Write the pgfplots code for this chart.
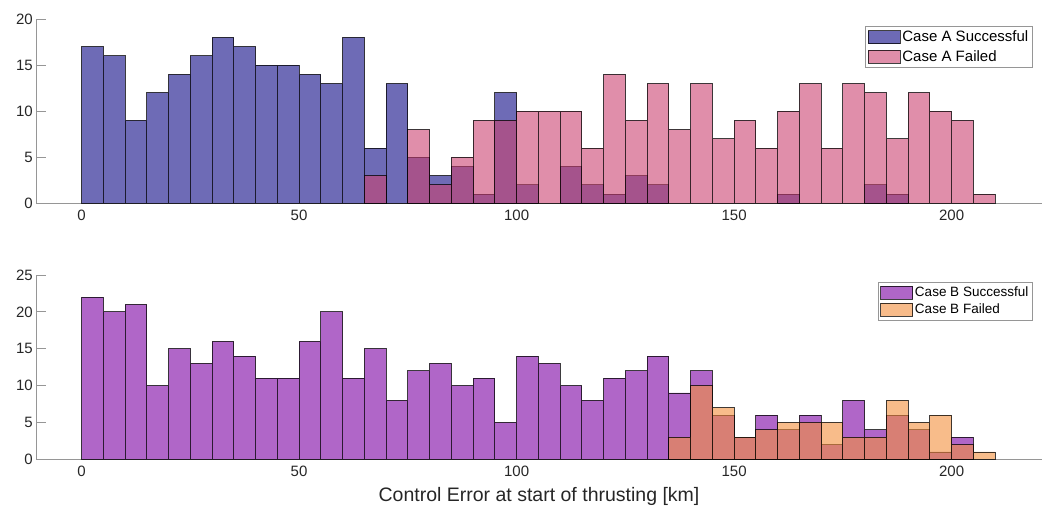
\documentclass[border=0pt]{standalone}
\usepackage{pgfplots}
\pgfplotsset{compat=1.18}
\usepackage{fontspec}
\setmainfont{Liberation Sans}
\definecolor{cSA}{RGB}{13,8,133}
\definecolor{cFA}{RGB}{203,67,113}
\definecolor{cSB}{RGB}{123,0,163}
\definecolor{cFB}{RGB}{243,143,60}
\definecolor{axgray}{RGB}{150,150,150}
\definecolor{tickcol}{RGB}{38,38,38}
\pgfplotsset{
  histleg/.style={legend image code/.code={\draw[##1,/tikz/.cd] (0pt,-6.5pt) rectangle (32pt,6.5pt);}},
  hbar/.style={ybar, bar width=5, bar shift=0pt, fill=#1, fill opacity=0.6, draw=black, draw opacity=0.75, line width=0.8pt, histleg},
  hist/.style={
    scale only axis, width=1005.4pt, height=184.3pt,
    xmin=-10.4, xmax=220.7, ymin=0,
    axis x line*=bottom, axis y line*=left,
    axis line style={draw=axgray, line width=0.8pt, -},
    xtick={0,50,100,150,200},
    tick align=inside,
    major tick length=10pt,
    x tick style={draw=none},
    y tick style={draw=axgray, line width=0.8pt},
    tick label style={font=\fontsize{15}{18}\selectfont, text=tickcol},
    /pgf/number format/assume math mode=true,
    xticklabel style={yshift=-3.5pt},
    legend cell align=left,
    legend style={draw=axgray, line width=0.8pt, fill=white, fill opacity=1, text opacity=1,
      at={(1,1)}, anchor=north east, xshift=-9pt, yshift=-7pt,
      inner xsep=2pt, inner ysep=2.5pt, text=black},
  }
}
\begin{document}
\begin{tikzpicture}
\path[use as bounding box] (0,0) rectangle (1046pt,507pt);
\begin{axis}[hist, at={(36.3pt,303.7pt)}, anchor=south west, ymax=20, ytick={0,5,10,15,20},
  legend style={font=\fontsize{15}{19}\selectfont, row sep=3.5pt}]
\addplot[hbar=cSA] coordinates {
(2.5,17) (7.5,16) (12.5,9) (17.5,12) (22.5,14) (27.5,16) (32.5,18) (37.5,17)
(42.5,15) (47.5,15) (52.5,14) (57.5,13) (62.5,18) (67.5,6) (72.5,13) (77.5,5)
(82.5,3) (87.5,4) (92.5,1) (97.5,12) (102.5,2) (112.5,4) (117.5,2) (122.5,1)
(127.5,3) (132.5,2) (162.5,1) (182.5,2) (187.5,1)};
\addlegendentry{Case A Successful}
\addplot[hbar=cFA] coordinates {
(67.5,3) (77.5,8) (82.5,2) (87.5,5) (92.5,9) (97.5,9) (102.5,10) (107.5,10)
(112.5,10) (117.5,6) (122.5,14) (127.5,9) (132.5,13) (137.5,8) (142.5,13) (147.5,7)
(152.5,9) (157.5,6) (162.5,10) (167.5,13) (172.5,6) (177.5,13) (182.5,12) (187.5,7)
(192.5,12) (197.5,10) (202.5,9) (207.5,1)};
\addlegendentry{Case A Failed}
\end{axis}
\begin{axis}[hist, at={(36.3pt,47.7pt)}, anchor=south west, ymax=25, ytick={0,5,10,15,20,25},
  legend style={font=\fontsize{13.5}{17}\selectfont, row sep=2pt},
  xlabel={Control Error at start of thrusting [km]},
  xlabel style={at={(axis description cs:0.5,0)}, anchor=north, inner sep=0pt, yshift=-27.5pt,
    font=\fontsize{19.5}{22}\selectfont, text=tickcol}]
\addplot[hbar=cSB] coordinates {
(2.5,22) (7.5,20) (12.5,21) (17.5,10) (22.5,15) (27.5,13) (32.5,16) (37.5,14)
(42.5,11) (47.5,11) (52.5,16) (57.5,20) (62.5,11) (67.5,15) (72.5,8) (77.5,12)
(82.5,13) (87.5,10) (92.5,11) (97.5,5) (102.5,14) (107.5,13) (112.5,10) (117.5,8)
(122.5,11) (127.5,12) (132.5,14) (137.5,9) (142.5,12) (147.5,6) (152.5,3) (157.5,6)
(162.5,4) (167.5,6) (172.5,2) (177.5,8) (182.5,4) (187.5,6) (192.5,4) (197.5,1) (202.5,3)};
\addlegendentry{Case B Successful}
\addplot[hbar=cFB] coordinates {
(137.5,3) (142.5,10) (147.5,7) (152.5,3) (157.5,4) (162.5,5) (167.5,5) (172.5,5)
(177.5,3) (182.5,3) (187.5,8) (192.5,5) (197.5,6) (202.5,2) (207.5,1)};
\addlegendentry{Case B Failed}
\end{axis}
\end{tikzpicture}
\end{document}
